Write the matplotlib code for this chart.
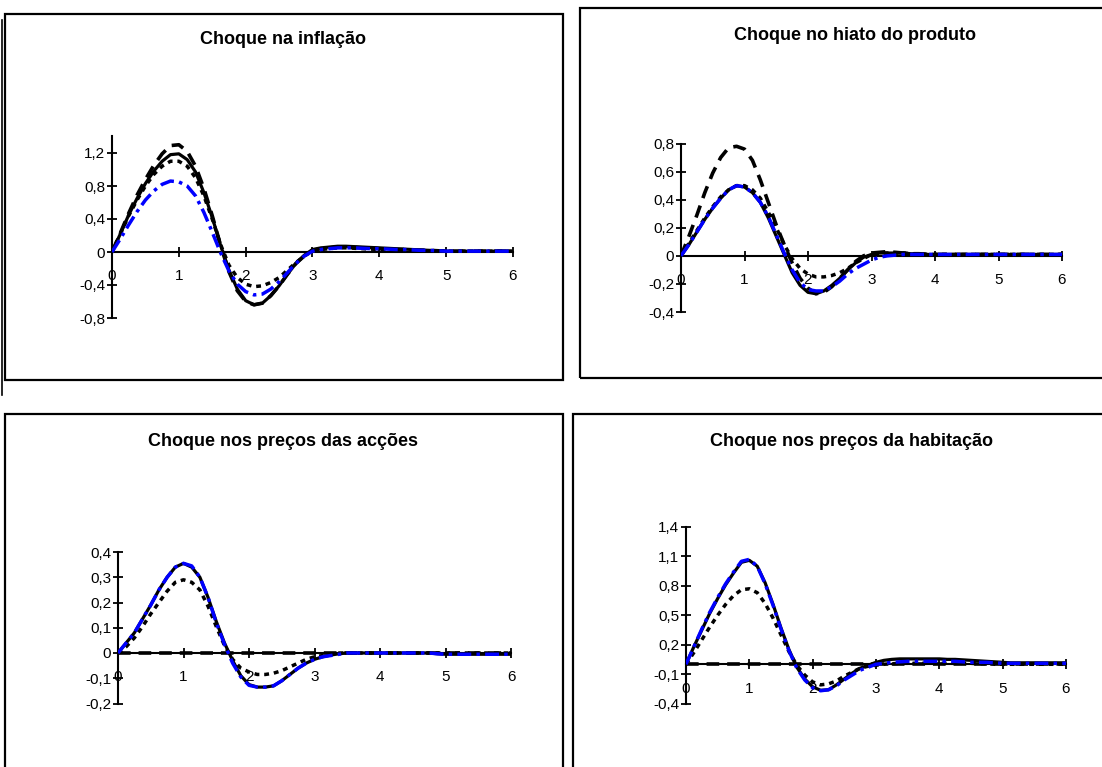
import matplotlib
matplotlib.use("Agg")
import matplotlib.pyplot as plt
from matplotlib.patches import Rectangle
from matplotlib.lines import Line2D

plt.rcParams['font.family'] = ['Liberation Sans', 'DejaVu Sans']

# ---------------- data ----------------
t = [0, 0.125, 0.25, 0.375, 0.5, 0.625, 0.75, 0.875, 1, 1.125, 1.25, 1.375, 1.5,
     1.625, 1.75, 1.875, 2, 2.125, 2.25, 2.375, 2.5, 2.625, 2.75, 2.875, 3,
     3.125, 3.25, 3.375, 3.5, 3.625, 3.75, 3.875, 4, 4.125, 4.25, 4.375, 4.5,
     4.625, 4.75, 4.875, 5, 5.125, 5.25, 5.375, 5.5, 5.625, 5.75, 5.875, 6]

titles = ["Choque na inflação", "Choque no hiato do produto",
          "Choque nos preços das acções", "Choque nos preços da habitação"]

x_ticks = [0, 1, 2, 3, 4, 5, 6]
x_labels = ["0", "1", "2", "3", "4", "5", "6"]

# panel 1 : inflation shock
y1_ticks = [-0.8, -0.4, 0, 0.4, 0.8, 1.2]
y1_labels = ["-0,8", "-0,4", "0", "0,4", "0,8", "1,2"]
y1_lim = (-0.8, 1.4)
s1 = [0, 0.22, 0.45, 0.65, 0.83, 0.98, 1.10, 1.18, 1.19, 1.12, 0.97, 0.72, 0.42,
      0.08, -0.22, -0.45, -0.59, -0.64, -0.62, -0.53, -0.41, -0.27, -0.14, -0.04, 0.03,
      0.05, 0.06, 0.07, 0.07, 0.065, 0.06, 0.055, 0.05, 0.045, 0.04, 0.035, 0.03,
      0.025, 0.02, 0.015, 0.01, 0.01, 0.01, 0.01, 0.01, 0.01, 0.01, 0.01, 0.01]
d1 = [0, 0.23, 0.47, 0.69, 0.88, 1.05, 1.19, 1.29, 1.30, 1.22, 1.04, 0.77, 0.44,
      0.08, -0.24, -0.47, -0.60, -0.64, -0.62, -0.53, -0.41, -0.27, -0.14, -0.05, 0.02,
      0.04, 0.05, 0.06, 0.06, 0.055, 0.05, 0.045, 0.04, 0.035, 0.03, 0.03, 0.025,
      0.02, 0.02, 0.015, 0.01, 0.01, 0.01, 0.01, 0.01, 0.01, 0.01, 0.01, 0.01]
p1 = [0, 0.22, 0.44, 0.63, 0.80, 0.94, 1.04, 1.10, 1.10, 1.04, 0.90, 0.68, 0.40,
      0.09, -0.16, -0.31, -0.39, -0.42, -0.41, -0.37, -0.31, -0.22, -0.13, -0.05, 0.01,
      0.03, 0.04, 0.05, 0.05, 0.045, 0.04, 0.035, 0.03, 0.03, 0.025, 0.02, 0.02,
      0.02, 0.015, 0.01, 0.01, 0.01, 0.01, 0.01, 0.01, 0.01, 0.01, 0.01, 0.01]
b1 = [0, 0.16, 0.33, 0.49, 0.63, 0.74, 0.82, 0.86, 0.85, 0.80, 0.68, 0.48, 0.24,
      -0.01, -0.23, -0.39, -0.48, -0.52, -0.51, -0.45, -0.36, -0.25, -0.14, -0.05, 0.01,
      0.03, 0.04, 0.05, 0.05, 0.05, 0.045, 0.04, 0.04, 0.035, 0.03, 0.03, 0.025,
      0.02, 0.02, 0.015, 0.01, 0.01, 0.01, 0.01, 0.01, 0.01, 0.01, 0.01, 0.01]

# panel 2 : output gap shock
y2_ticks = [-0.4, -0.2, 0, 0.2, 0.4, 0.6, 0.8]
y2_labels = ["-0,4", "-0,2", "0", "0,2", "0,4", "0,6", "0,8"]
y2_lim = (-0.4, 0.8)
s2 = [0, 0.08, 0.17, 0.26, 0.34, 0.41, 0.47, 0.50, 0.49, 0.45, 0.38, 0.27, 0.14,
      0.01, -0.12, -0.21, -0.26, -0.27, -0.25, -0.21, -0.16, -0.10, -0.05, -0.01, 0.01,
      0.02, 0.02, 0.02, 0.02, 0.015, 0.015, 0.01, 0.01, 0.01, 0.01, 0.01, 0.01,
      0.01, 0.01, 0.01, 0.01, 0.01, 0.01, 0.01, 0.01, 0.01, 0.01, 0.01, 0.01]
d2 = [0, 0.14, 0.29, 0.45, 0.59, 0.70, 0.77, 0.78, 0.76, 0.68, 0.54, 0.38, 0.22,
      0.08, -0.05, -0.16, -0.23, -0.27, -0.26, -0.22, -0.16, -0.10, -0.04, 0.00, 0.02,
      0.025, 0.03, 0.025, 0.02, 0.015, 0.015, 0.01, 0.01, 0.01, 0.01, 0.01, 0.01,
      0.01, 0.01, 0.01, 0.01, 0.01, 0.01, 0.01, 0.01, 0.01, 0.01, 0.01, 0.01]
p2 = [0, 0.09, 0.18, 0.27, 0.35, 0.42, 0.47, 0.50, 0.50, 0.47, 0.41, 0.31, 0.20,
      0.08, -0.02, -0.09, -0.13, -0.15, -0.15, -0.14, -0.12, -0.09, -0.05, -0.02, 0.01,
      0.02, 0.02, 0.02, 0.02, 0.015, 0.015, 0.01, 0.01, 0.01, 0.01, 0.01, 0.01,
      0.01, 0.01, 0.01, 0.01, 0.01, 0.01, 0.01, 0.01, 0.01, 0.01, 0.01, 0.01]
b2 = [0, 0.08, 0.17, 0.26, 0.34, 0.41, 0.47, 0.50, 0.49, 0.45, 0.38, 0.28, 0.15,
      0.02, -0.10, -0.19, -0.24, -0.25, -0.25, -0.22, -0.18, -0.13, -0.09, -0.06, -0.03,
      -0.01, 0.00, 0.005, 0.01, 0.01, 0.01, 0.01, 0.01, 0.01, 0.01, 0.01, 0.01,
      0.01, 0.01, 0.01, 0.01, 0.01, 0.01, 0.01, 0.01, 0.01, 0.01, 0.01, 0.01]

# panel 3 : stock price shock
y3_ticks = [-0.2, -0.1, 0, 0.1, 0.2, 0.3, 0.4]
y3_labels = ["-0,2", "-0,1", "0", "0,1", "0,2", "0,3", "0,4"]
y3_lim = (-0.2, 0.4)
s3 = [0, 0.04, 0.08, 0.135, 0.19, 0.25, 0.30, 0.34, 0.355, 0.34, 0.30, 0.22, 0.125,
      0.04, -0.03, -0.09, -0.125, -0.135, -0.135, -0.13, -0.11, -0.085, -0.06, -0.04, -0.025,
      -0.015, -0.008, -0.003, 0.0, 0.0, 0.0, 0.0, 0.0, 0.0, 0.0, 0.0, 0.0,
      0.0, 0.0, -0.003, -0.005, -0.005, -0.005, -0.005, -0.005, -0.005, -0.005, -0.005, -0.005]
d3 = [0, 0, 0, 0, 0, 0, 0, 0, 0, 0, 0, 0, 0,
      0, 0, 0, 0, 0, 0, 0, 0, 0, 0, 0, 0,
      0, 0, 0, 0, 0, 0, 0, 0, 0, 0, 0, 0,
      0, 0, 0, 0, 0, 0, 0, 0, 0, 0, 0, 0]
p3 = [0, 0.025, 0.06, 0.105, 0.155, 0.20, 0.245, 0.28, 0.29, 0.28, 0.25, 0.185, 0.105,
      0.03, -0.025, -0.06, -0.075, -0.085, -0.085, -0.08, -0.07, -0.055, -0.04, -0.025, -0.015,
      -0.01, -0.005, 0.0, 0.0, 0.0, 0.0, 0.0, 0.0, 0.0, 0.0, 0.0, 0.0,
      0.0, 0.0, 0.0, 0.0, 0.0, 0.0, 0.0, 0.0, 0.0, 0.0, 0.0, 0.0]
b3 = [0, 0.04, 0.08, 0.135, 0.19, 0.25, 0.30, 0.34, 0.355, 0.345, 0.30, 0.22, 0.12,
      0.035, -0.04, -0.095, -0.128, -0.135, -0.135, -0.13, -0.11, -0.085, -0.06, -0.04, -0.025,
      -0.015, -0.01, -0.005, 0.0, 0.0, 0.0, 0.0, 0.0, 0.0, 0.0, 0.0, 0.0,
      0.0, 0.0, -0.003, -0.005, -0.005, -0.005, -0.005, -0.005, -0.005, -0.005, -0.005, -0.005]

# panel 4 : house price shock
y4_ticks = [-0.4, -0.1, 0.2, 0.5, 0.8, 1.1, 1.4]
y4_labels = ["-0,4", "-0,1", "0,2", "0,5", "0,8", "1,1", "1,4"]
y4_lim = (-0.4, 1.4)
s4 = [0, 0.18, 0.35, 0.52, 0.67, 0.81, 0.93, 1.04, 1.06, 1.00, 0.83, 0.61, 0.37,
      0.15, -0.03, -0.15, -0.23, -0.265, -0.26, -0.21, -0.15, -0.09, -0.04, -0.01, 0.02,
      0.04, 0.05, 0.055, 0.055, 0.055, 0.055, 0.055, 0.055, 0.05, 0.05, 0.045, 0.04,
      0.035, 0.03, 0.025, 0.02, 0.015, 0.015, 0.015, 0.015, 0.015, 0.015, 0.015, 0.015]
d4 = [0, 0, 0, 0, 0, 0, 0, 0, 0, 0, 0, 0, 0,
      0, 0, 0, 0, 0, 0, 0, 0, 0, 0, 0, 0,
      0, 0, 0, 0, 0, 0, 0, 0, 0, 0, 0, 0,
      0, 0, 0, 0, 0, 0, 0, 0, 0, 0, 0, 0]
p4 = [0, 0.12, 0.25, 0.38, 0.50, 0.61, 0.70, 0.76, 0.77, 0.73, 0.62, 0.47, 0.30,
      0.13, -0.01, -0.11, -0.18, -0.21, -0.20, -0.17, -0.12, -0.08, -0.04, -0.02, -0.01,
      0.0, 0.005, 0.01, 0.01, 0.01, 0.01, 0.01, 0.01, 0.01, 0.01, 0.01, 0.01,
      0.005, 0.005, 0.0, 0.0, 0.0, 0.0, 0.0, 0.0, 0.0, 0.0, 0.0, 0.0]
b4 = [0, 0.18, 0.36, 0.53, 0.68, 0.82, 0.94, 1.05, 1.07, 1.00, 0.82, 0.60, 0.36,
      0.14, -0.04, -0.16, -0.24, -0.27, -0.26, -0.22, -0.16, -0.11, -0.06, -0.03, 0.0,
      0.01, 0.02, 0.025, 0.03, 0.03, 0.03, 0.03, 0.03, 0.03, 0.03, 0.025, 0.02,
      0.02, 0.02, 0.015, 0.01, 0.01, 0.01, 0.01, 0.01, 0.01, 0.01, 0.01, 0.01]

panels = [
    (s1, d1, p1, b1, y1_ticks, y1_labels, y1_lim),
    (s2, d2, p2, b2, y2_ticks, y2_labels, y2_lim),
    (s3, d3, p3, b3, y3_ticks, y3_labels, y3_lim),
    (s4, d4, p4, b4, y4_ticks, y4_labels, y4_lim),
]

# ---------------- layout (pixels) ----------------
W, H = 1102, 767
fig = plt.figure(figsize=(W / 100, H / 100), dpi=100)

# axes boxes: x at t=0, x at t=6, y at ymax, y at ymin
axes_px = [
    (112, 513, 136.5, 318),
    (681, 1062, 143.5, 312),
    (118, 511, 552, 703.5),
    (686, 1066, 527, 703.5),
]
# panel frames: x0, x1, y0(top), y1(bottom)
frames_px = [
    (5, 563, 14, 380),
    (580, 1106, 8, 378),
    (5, 563, 414, 775),
    (573, 1106, 414, 775),
]
title_px = [(283, 40), (855, 35), (283, 442), (851, 442)]


def fx(x):
    return x / W


def fy(y):
    return 1 - y / H


for (x0, x1, y0, y1) in frames_px:
    fig.add_artist(Rectangle((fx(x0), fy(y1)), fx(x1) - fx(x0), fy(y0) - fy(y1),
                             transform=fig.transFigure, fill=False,
                             edgecolor='black', linewidth=1.6))
# partial frame line at the far left edge
fig.add_artist(Line2D([fx(1.5), fx(1.5)], [fy(20), fy(395)],
                      transform=fig.transFigure, color='black', linewidth=1.2))

for i, (s, d, p, b, yt, yl, ylim) in enumerate(panels):
    x0, x1, ytop, ybot = axes_px[i]
    ax = fig.add_axes([fx(x0), fy(ybot), fx(x1) - fx(x0), fy(ytop) - fy(ybot)])
    ax.patch.set_visible(False)
    for sp in ['top', 'right']:
        ax.spines[sp].set_visible(False)
    ax.spines['bottom'].set_position(('data', 0))
    ax.spines['left'].set_position(('data', 0))
    ax.spines['bottom'].set_linewidth(1.5)
    ax.spines['left'].set_linewidth(1.5)

    ax.plot(t, s, color='black', linewidth=2.3, solid_joinstyle='round', zorder=3)
    ax.plot(t, d, color='black', linewidth=2.6, dashes=(3.5, 2.2), zorder=3)
    ax.plot(t, p, color='black', linewidth=2.5, dashes=(1.4, 1.4), zorder=3)
    ax.plot(t, b, color='#0000ff', linewidth=2.5, dashes=(4, 1.5, 1, 1.5), zorder=4)

    ax.set_xlim(0, 6)
    ax.set_ylim(*ylim)
    ax.set_xticks(x_ticks)
    ax.set_xticklabels(x_labels)
    ax.set_yticks(yt)
    ax.set_yticklabels(yl)
    ax.tick_params(axis='both', direction='inout', length=7, width=1.3,
                   labelsize=11, colors='black')
    ax.tick_params(axis='x', pad=9)
    ax.tick_params(axis='y', pad=1.5)

    tx, ty = title_px[i]
    fig.text(fx(tx), fy(ty), titles[i], ha='center', va='center',
             fontsize=13, fontweight='bold')

fig.savefig("out.png", dpi=100)
